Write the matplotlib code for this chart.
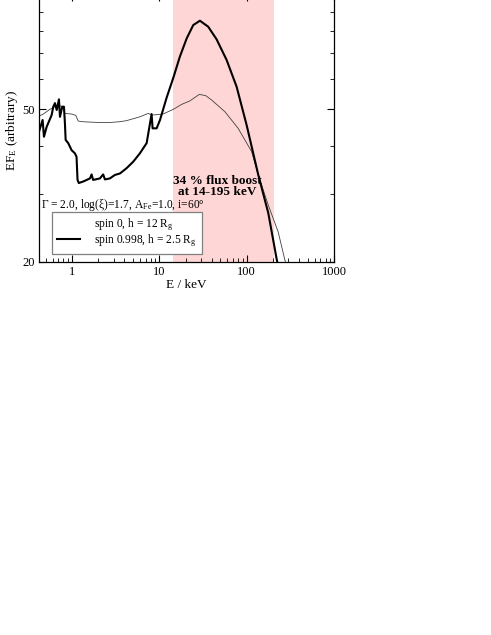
import numpy as np
import matplotlib
matplotlib.use("Agg")
import matplotlib.pyplot as plt
from matplotlib.ticker import FixedLocator, NullFormatter, FixedFormatter

plt.rcParams['font.family'] = ['Liberation Serif', 'DejaVu Serif']
plt.rcParams['mathtext.fontset'] = 'stix'

# spin 0, h = 12 Rg (thin line)
e_thin = [0.42, 0.47, 0.56, 0.64, 0.70, 0.80, 0.83, 1.0, 1.11, 1.18, 1.35, 2.0,
          2.7, 3.5, 4.2, 6.0, 7.5, 8.2, 11.0, 14.5, 18.0, 22.4, 28.7, 34.0,
          39.7, 56.4, 80.0, 114.0, 136.0, 177.0, 230.0, 274.0, 290.0]
f_thin = [48.0, 48.6, 50.0, 50.8, 51.2, 50.8, 48.8, 48.6, 48.2, 46.6, 46.4, 46.2,
          46.2, 46.4, 46.7, 47.8, 48.8, 48.3, 48.6, 50.0, 51.5, 52.6, 54.7, 54.3,
          52.9, 49.3, 44.6, 38.8, 33.7, 28.1, 23.9, 20.2, 19.5]

# spin 0.998, h = 2.5 Rg (thick line)
e_thick = [0.42, 0.462, 0.479, 0.514, 0.586, 0.612, 0.640, 0.670, 0.711, 0.730,
           0.776, 0.811, 0.832, 0.848, 0.908, 0.993, 1.08, 1.13, 1.16, 1.20,
           1.35, 1.61, 1.68, 1.75, 2.09, 2.28, 2.39, 2.72, 3.11, 3.55, 4.23,
           5.04, 6.01, 7.17, 8.17, 8.39, 9.33, 10.2, 12.1, 14.5, 17.2, 20.6,
           24.5, 29.2, 36.3, 45.3, 59.0, 76.8, 100.0, 136.0, 177.0, 220.0, 240.0]
f_thick = [43.7, 46.9, 42.4, 45.0, 48.3, 50.8, 51.9, 49.8, 53.1, 47.8,
           50.8, 50.8, 46.0, 41.6, 40.8, 39.1, 38.4, 37.6, 32.7, 32.1,
           32.4, 33.0, 33.8, 32.7, 33.0, 33.8, 32.8, 33.0, 33.7, 34.0, 35.1,
           36.5, 38.4, 40.8, 48.6, 44.6, 44.6, 46.9, 53.5, 60.5, 68.6, 76.6,
           83.0, 85.2, 82.2, 76.2, 67.3, 57.3, 45.5, 33.7, 26.8, 20.4, 18.5]

band = (14.5, 205.0)
x_major = [1, 10, 100, 1000]
x_labels = ['1', '10', '100', '1000']
y_major = [20, 50, 100]
y_labels = ['20', '50', '']

fig = plt.figure(figsize=(4.91, 6.35), dpi=100)
ax = fig.add_axes([0.0794, 0.5879, 0.6008, 0.4214])

ax.axvspan(band[0], band[1], color='#ffd6d6', lw=0, zorder=0)
ax.plot(e_thin, f_thin, color='0.25', lw=0.6, label='spin 0, h = 12 R$_\\mathregular{g}$')
ax.plot(e_thick, f_thick, color='black', lw=1.5, label='spin 0.998, h = 2.5 R$_\\mathregular{g}$')

ax.set_xscale('log')
ax.set_yscale('log')
ax.set_xlim(0.42, 1000)
ax.set_ylim(20, 100)

ax.xaxis.set_major_locator(FixedLocator(x_major))
ax.xaxis.set_major_formatter(FixedFormatter(x_labels))
ax.xaxis.set_minor_locator(FixedLocator([m * d for d in [0.1, 1, 10, 100] for m in range(2, 10)]))
ax.xaxis.set_minor_formatter(NullFormatter())
ax.yaxis.set_major_locator(FixedLocator(y_major))
ax.yaxis.set_major_formatter(FixedFormatter(y_labels))
ax.yaxis.set_minor_locator(FixedLocator([30, 40, 60, 70, 80, 90]))
ax.yaxis.set_minor_formatter(NullFormatter())

ax.tick_params(which='both', direction='in', top=True, right=True, labelsize=9, pad=3)
ax.tick_params(which='major', length=5, width=0.8)
ax.tick_params(which='minor', length=3, width=0.6)
for s in ax.spines.values():
    s.set_linewidth(0.9)

ax.set_xlabel('E / keV', fontsize=9.5, labelpad=1)
ax.set_ylabel('EF$_\\mathregular{E}$ (arbitrary)', fontsize=9.5, va='center')
ax.yaxis.set_label_coords(-0.092, 0.49)

ax.text(46, 31.4, '34 % flux boost\nat 14-195 keV', ha='center', va='center',
        fontsize=9.5, fontweight='bold', linespacing=0.9)
ax.text(0.44, 28.1, '\u0393 = 2.0, log(\u03be)=1.7, A$_\\mathregular{Fe}$=1.0, i=60\u00b0',
        fontsize=8.3, ha='left', va='center')

leg = ax.legend(loc='upper left', bbox_to_anchor=(0.044, 0.186), fontsize=8.3,
                fancybox=False, edgecolor='0.5', framealpha=1, handlelength=2.0,
                borderpad=0.45, labelspacing=-0.12, handletextpad=1.2,
                borderaxespad=0)
leg.get_frame().set_linewidth(0.9)
leg.get_lines()[0].set_visible(False)

fig.savefig('out.png', dpi=100)
